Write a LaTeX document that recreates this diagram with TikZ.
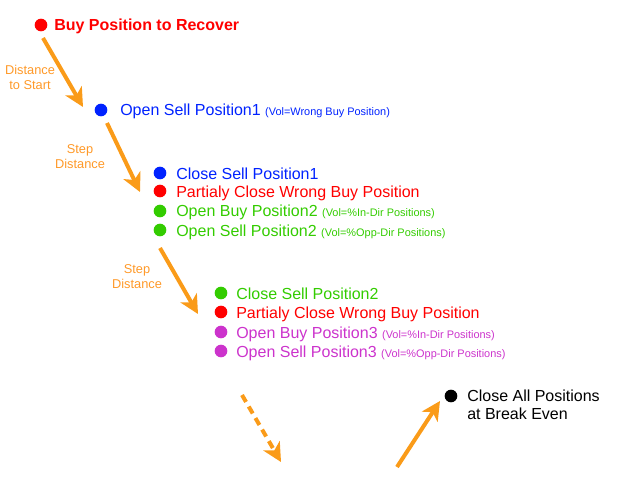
\documentclass[tikz,border=0pt]{standalone}
\usepackage{fontspec}
\setmainfont{Liberation Sans}
\usetikzlibrary{arrows.meta}
\definecolor{cred}{RGB}{255,0,0}
\definecolor{cblue}{RGB}{0,34,255}
\definecolor{cgreen}{RGB}{51,204,0}
\definecolor{cmag}{RGB}{204,51,204}
\definecolor{corange}{RGB}{250,155,25}
\definecolor{clabel}{RGB}{255,153,40}
\tikzset{
  dot/.style={circle,fill=#1,draw=none,inner sep=0pt,minimum size=9.5pt},
  txt/.style={anchor=base west,inner sep=0pt,text=#1,font=\fontsize{12}{14}\selectfont},
  lbl/.style={align=center,inner sep=0pt,text=clabel,font=\fontsize{9.6}{11.3}\selectfont},
  bigarrow/.style={draw=corange,line width=3pt,-{Stealth[length=14pt,width=14pt,inset=4pt]}},
}
\newcommand{\voltxt}[1]{{\fontsize{8.2}{9}\selectfont #1}}
\begin{document}
\begin{tikzpicture}[x=0.75pt,y=-0.75pt]
\useasboundingbox (0,0) rectangle (640,480);
% first
\node[dot=cred] (d0) at (41,25) {};
\node[txt=cred,font=\fontsize{12}{14}\selectfont\bfseries] (t0) at (54,30) {Buy Position to Recover};
\coordinate (a1s) at (43,38); \coordinate (a1e) at (83,107);
\draw[bigarrow] (a1s) -- (a1e);
\node[lbl] (l1) at (30,77) {Distance\\to Start};
% open sell 1
\node[dot=cblue] (d1) at (101,110) {};
\node[txt=cblue] (t1) at (120,115) {Open Sell Position1 \voltxt{(Vol=Wrong Buy Position)}};
\coordinate (a2s) at (107,123); \coordinate (a2e) at (140,192);
\draw[bigarrow] (a2s) -- (a2e);
\node[lbl] (l2) at (80,157) {Step\\Distance};
% group 2
\node[dot=cblue] (d21) at (160,173) {};
\node[txt=cblue] (t21) at (176,179) {Close Sell Position1};
\node[dot=cred] (d22) at (160,191) {};
\node[txt=cred] (t22) at (176,197) {Partialy Close Wrong Buy Position};
\node[dot=cgreen] (d23) at (160,211) {};
\node[txt=cgreen] (t23) at (176,216) {Open Buy Position2 \voltxt{(Vol=\%In-Dir Positions)}};
\node[dot=cgreen] (d24) at (160,230) {};
\node[txt=cgreen] (t24) at (176,236) {Open Sell Position2 \voltxt{(Vol=\%Opp-Dir Positions)}};
\coordinate (a3s) at (160,248); \coordinate (a3e) at (198,314);
\draw[bigarrow] (a3s) -- (a3e);
\node[lbl] (l3) at (137,277) {Step\\Distance};
% group 3
\node[dot=cgreen] (d31) at (221,293) {};
\node[txt=cgreen] (t31) at (236,299) {Close Sell Position2};
\node[dot=cred] (d32) at (221,312) {};
\node[txt=cred] (t32) at (236,318) {Partialy Close Wrong Buy Position};
\node[dot=cmag] (d33) at (221,332) {};
\node[txt=cmag] (t33) at (236,338) {Open Buy Position3 \voltxt{(Vol=\%In-Dir Positions)}};
\node[dot=cmag] (d34) at (221,351) {};
\node[txt=cmag] (t34) at (236,357) {Open Sell Position3 \voltxt{(Vol=\%Opp-Dir Positions)}};
% dashed
\coordinate (a4s) at (242,395); \coordinate (a4e) at (281,462);
\draw[bigarrow,dash pattern=on 6pt off 4pt] (a4s) -- (a4e);
% final
\coordinate (a5s) at (397,467); \coordinate (a5e) at (440,401);
\draw[bigarrow] (a5s) -- (a5e);
\node[dot=black] (d5) at (451,396) {};
\node[txt=black,align=left,font=\fontsize{12}{13.5}\selectfont] (t5) at (467,419) {Close All Positions\\at Break Even};
\end{tikzpicture}
\end{document}
